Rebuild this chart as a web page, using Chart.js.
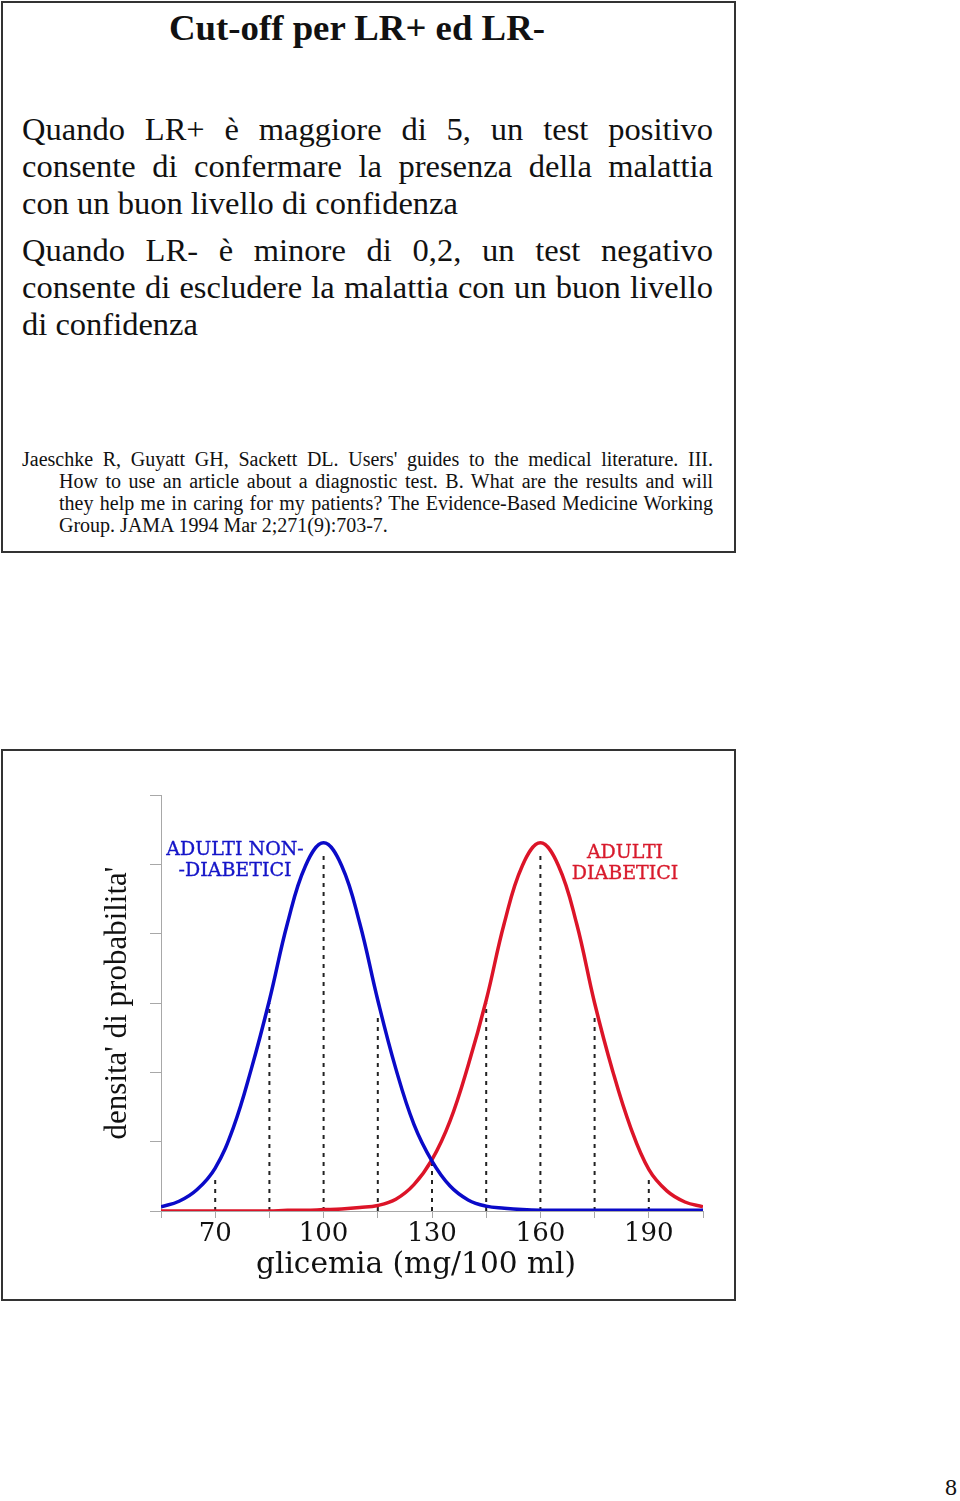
<!DOCTYPE html>
<html lang="it">
<head>
  <meta charset="utf-8">
  <title>Cut-off per LR+ ed LR-</title>
  <script src="https://cdn.jsdelivr.net/npm/chart.js@4.4.1/dist/chart.umd.min.js"></script>
  <style>
    html, body { margin: 0; padding: 0; background: #fff; }
    body { position: relative; width: 960px; height: 1501px; overflow: hidden; font-family: "Liberation Serif", "Times New Roman", serif; color: #111; }
    .slide { position: absolute; left: 1px; width: 735px; box-sizing: border-box; border: 2px solid #333; }
    #slide1 { top: 1px; height: 552px; }
    #slide2 { top: 749px; height: 552px; }
    .title { position: absolute; left: 169px; top: 6px; font-size: 36.8px; font-weight: bold; white-space: nowrap; }
    .body { position: absolute; left: 22px; width: 691px; font-size: 32.5px; line-height: 37px; }
    .body .j { text-align: justify; text-align-last: justify; }
    .body p { margin: 0 0 10px 0; }
    .ref { position: absolute; left: 22px; top: 448px; width: 691px; font-size: 20px; line-height: 22px; }
    .ref div { text-align: justify; text-align-last: justify; padding-left: 37px; }
    .ref div.first { padding-left: 0; }
    .ref div.last { text-align-last: left; }
    #chartWrap { position: absolute; left: 0; top: 750px; width: 960px; height: 550px; }
    .lbl { position: absolute; font-family: "DejaVu Serif", serif; font-size: 19px; line-height: 21px; text-align: center; white-space: nowrap; -webkit-text-stroke: 0.35px currentColor; }
    .xtitle { position: absolute; left: 256px; top: 1246px; font-family: "DejaVu Serif", serif; font-size: 29.6px; white-space: nowrap; }
    .page { position: absolute; left: 945px; top: 1474px; font-size: 24px; }
  </style>
</head>
<body>
  <div class="slide" id="slide1"></div>
  <div class="slide" id="slide2"></div>

  <div class="title">Cut-off per LR+ ed LR-</div>
  <div class="body" style="top:111px">
    <p>
      <span class="j" style="display:block">Quando LR+ è maggiore di 5, un test positivo</span>
      <span class="j" style="display:block">consente di confermare la presenza della malattia</span>
      <span style="display:block">con un buon livello di confidenza</span>
    </p>
    <p>
      <span class="j" style="display:block">Quando LR- è minore di 0,2, un test negativo</span>
      <span class="j" style="display:block">consente di escludere la malattia con un buon livello</span>
      <span style="display:block">di confidenza</span>
    </p>
  </div>
  <div class="ref">
    <div class="first">Jaeschke R, Guyatt GH, Sackett DL. Users' guides to the medical literature. III.</div>
    <div>How to use an article about a diagnostic test. B. What are the results and will</div>
    <div>they help me in caring for my patients? The Evidence-Based Medicine Working</div>
    <div class="last">Group. JAMA 1994 Mar 2;271(9):703-7.</div>
  </div>

  <div id="chartWrap"><canvas id="densityChart" width="960" height="550"></canvas></div>
  <div class="lbl" style="left:160px; top:838px; width:150px; color:#1414c8">ADULTI NON-<br>-DIABETICI</div>
  <div class="lbl" style="left:550px; top:841px; width:150px; color:#d81a2c">ADULTI<br>DIABETICI</div>
  <div class="xtitle">glicemia (mg/100 ml)</div>
  <div class="page">8</div>

  <script>
    // glicemia values (mg/100 ml) where the curves were read
    const glicemia = [55, 60, 65, 70, 75, 80, 85, 90, 95, 100, 105, 110, 115, 120, 125, 130,
                      135, 140, 145, 150, 155, 160, 165, 170, 175, 180, 185, 190, 195, 200, 205];
    // probability density, arbitrary units (y axis 0..6)
    const nonDiabetici = [0.06, 0.14, 0.31, 0.62, 1.2, 2.05, 3.04, 4.15, 4.98, 5.31, 4.98, 4.15, 3.04, 2.05, 1.25, 0.72,
                          0.36, 0.16, 0.07, 0.04, 0.02, 0.01, 0.01, 0.01, 0.01, 0.01, 0.01, 0.01, 0.01, 0.01, 0.01];
    const diabetici = [0, 0, 0, 0, 0, 0, 0, 0.01, 0.01, 0.02, 0.03, 0.05, 0.08, 0.17, 0.38, 0.74,
                       1.3, 2.1, 3.04, 4.15, 4.98, 5.31, 4.98, 4.15, 3.0, 2.02, 1.2, 0.6, 0.29, 0.13, 0.06];
    // dashed cut-off lines and their tops
    const cutoffs = [70, 85, 100, 115, 130, 145, 160, 175, 190];
    const cutoffTops = [0.52, 3.0, 5.18, 2.85, 0.72, 3.0, 5.18, 2.85, 0.5];
    const tickLabels = [70, 100, 130, 160, 190];

    const toPoints = vals => glicemia.map((g, i) => ({ x: g, y: vals[i] }));

    const datasets = [
      {
        label: 'Adulti non-diabetici',
        data: toPoints(nonDiabetici),
        borderColor: '#0a0ac8',
        borderWidth: 3.5,
        pointRadius: 0,
        tension: 0.4,
        order: 0
      },
      {
        label: 'Adulti diabetici',
        data: toPoints(diabetici),
        borderColor: '#dc1428',
        borderWidth: 3.5,
        pointRadius: 0,
        tension: 0.4,
        order: 1
      }
    ];
    cutoffs.forEach((c, i) => {
      datasets.push({
        label: 'cut-off ' + c,
        data: [{ x: c, y: 0 }, { x: c, y: cutoffTops[i] }],
        borderColor: '#222',
        borderWidth: 2,
        borderDash: [4, 5],
        pointRadius: 0,
        order: 2
      });
    });

    new Chart(document.getElementById('densityChart'), {
      type: 'line',
      data: { datasets: datasets },
      options: {
        responsive: false,
        animation: false,
        events: [],
        layout: { autoPadding: false, padding: { left: 99, right: 257, top: 45, bottom: 0 } },
        plugins: { legend: { display: false }, tooltip: { enabled: false } },
        scales: {
          x: {
            type: 'linear',
            min: 55,
            max: 205,
            afterFit: s => { s.height = 89; },
            border: { color: '#a8a8a8', width: 1 },
            grid: { drawOnChartArea: false, color: '#a8a8a8', tickLength: 7 },
            ticks: {
              stepSize: 15,
              padding: 1,
              autoSkip: false,
              maxRotation: 0,
              minRotation: 0,
              color: '#111',
              font: { family: 'DejaVu Serif', size: 26 },
              callback: v => tickLabels.includes(v) ? String(v) : ''
            }
          },
          y: {
            min: 0,
            max: 6,
            afterFit: s => { s.width = 62; },
            border: { color: '#a8a8a8', width: 1 },
            grid: { drawOnChartArea: false, color: '#a8a8a8', tickLength: 11 },
            ticks: { stepSize: 1, display: false },
            title: {
              display: true,
              text: "densita' di probabilita'",
              color: '#111',
              padding: 0,
              font: { family: 'Liberation Serif', size: 31 }
            }
          }
        }
      }
    });
  </script>
</body>
</html>
